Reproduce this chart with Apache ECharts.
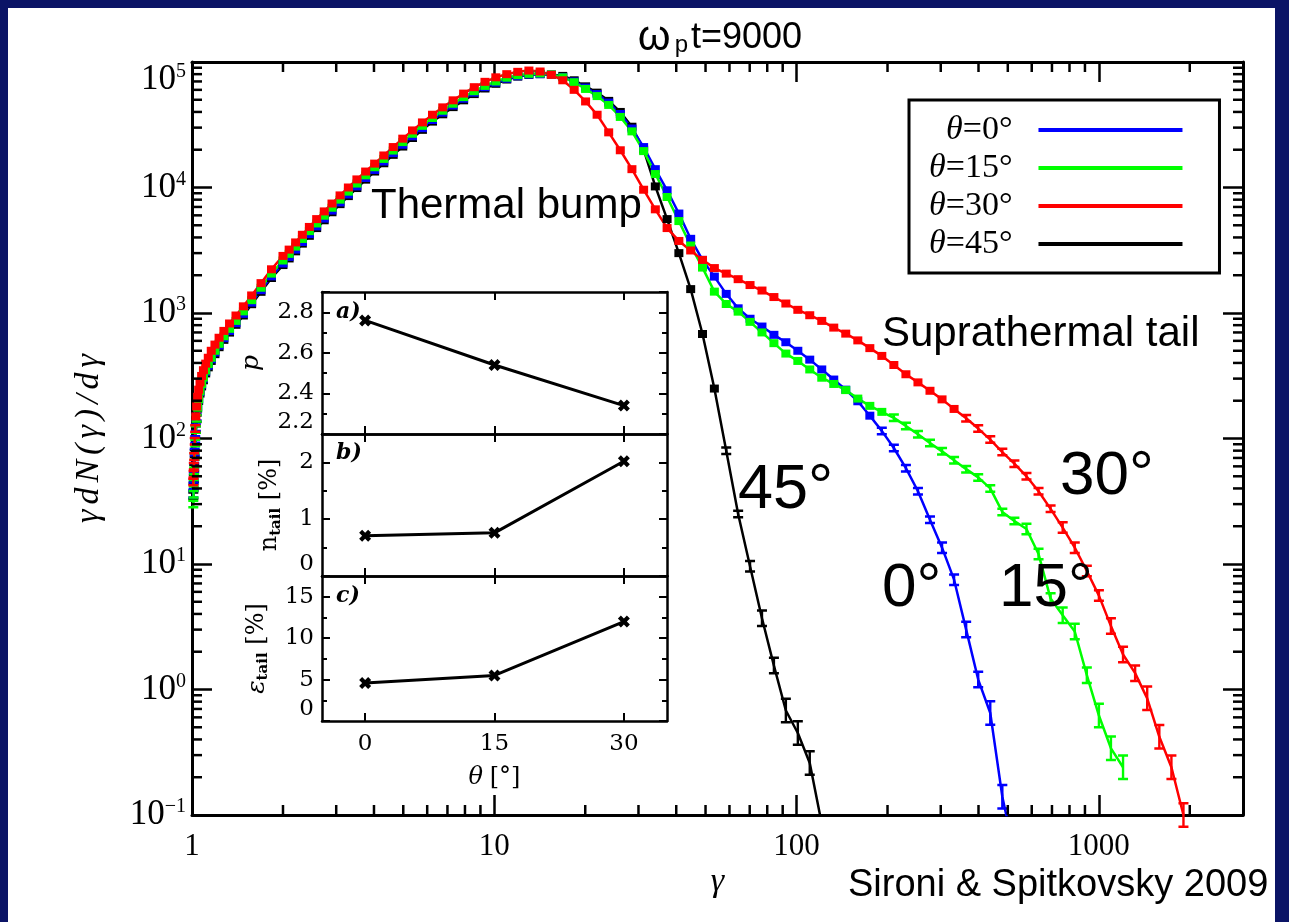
<!DOCTYPE html>
<html>
<head>
<meta charset="utf-8">
<title>Particle spectra at ωp t = 9000</title>
<script src="https://cdn.jsdelivr.net/npm/echarts@6.0.0/dist/echarts.min.js"></script>
<style>
  html, body { margin: 0; padding: 0; width: 1289px; height: 922px; overflow: hidden; background: #0b1466; }
  #sheet { position: absolute; left: 8px; top: 8px; width: 1267px; height: 914px; background: #ffffff; }
  #chart { position: absolute; left: 0; top: 0; width: 1289px; height: 922px; }
</style>
</head>
<body>
<div id="sheet"></div>
<div id="chart"></div>
<script>
// Lorentz-factor bin centres shared by the four spectra
const gammaBins = [
  1.01, 1.012, 1.014, 1.017, 1.021, 1.025, 1.03, 1.036, 1.044, 1.052, 1.063, 1.076, 1.091, 1.11, 1.132, 1.158, 1.191, 1.229, 1.275, 1.331, 1.398, 1.479, 1.575, 1.692, 1.832,
  2, 2.096, 2.202, 2.318, 2.445, 2.585, 2.738, 2.905, 3.089, 3.291, 3.512, 3.754, 4.02, 4.311, 4.631, 4.981, 5.365, 5.786, 6.248, 6.754, 7.31, 7.918, 8.586, 9.318, 10.12,
  11, 11.96, 13.02, 14.18, 15.45, 16.85, 18.38, 20.05, 21.89, 23.91, 26.12, 28.54, 31.2, 34.11, 37.31, 40.81, 44.65, 48.86, 53.48, 58.54, 64.1, 70.18, 76.86, 84.18, 92.2,
  101, 110.6, 121.2, 132.8, 145.5, 159.5, 174.8, 191.5, 209.9, 230.1, 252.2, 276.4, 303, 332.1, 364.1, 399.1, 437.5, 479.6, 525.8, 576.4, 632, 692.8, 759.6, 832.8, 913,
  1001, 1097, 1203, 1319, 1446, 1586, 1739, 1906
];

// γ dN/dγ for each magnetic-field obliquity (same order as gammaBins)
const spectrumTheta0 = [
  36, 42, 50, 60, 78, 98, 122, 148, 178, 205, 235, 268, 300, 340, 380, 428, 485, 550, 630, 720, 830, 985, 1210, 1520, 1960,
  2480, 2800, 3200, 3680, 4250, 4900, 5650, 6550, 7600, 8800, 10200, 11900, 13800, 16100, 18800, 21900, 25600, 29700, 34500, 39500, 45000, 51000, 57000, 63000, 68500,
  73500, 77000, 79500, 80000, 79000, 76000, 70000, 62500, 55500, 47500, 38500, 29500, 21000, 14000, 9500, 6200, 3900, 2650, 1950, 1420, 1090, 900, 780, 670, 585,
  500, 425, 355, 295, 245, 198, 152, 115, 84, 58, 38, 22.5, 13.5, 7.5, 3, 1.2, 0.65, 0.14, 0.05
];
const spectrumTheta15 = [
  30, 36, 44, 55, 72, 92, 118, 145, 176, 205, 238, 272, 306, 348, 392, 440, 500, 568, 652, 748, 865, 1030, 1265, 1590, 2060,
  2620, 2960, 3380, 3890, 4490, 5170, 5960, 6900, 8000, 9270, 10750, 12500, 14500, 16900, 19700, 23000, 26800, 31000, 35800, 40900, 46500, 52500, 58500, 64500, 70000,
  75000, 78500, 80500, 81000, 79500, 75500, 69000, 61000, 53500, 45500, 36500, 28000, 19500, 12800, 8400, 5400, 3450, 2300, 1480, 1180, 1025, 850, 700, 575, 475,
  415, 355, 305, 272, 243, 208, 182, 163, 146, 126, 108, 92, 79, 67, 57, 49, 40, 26, 22, 19, 12, 5.3, 3.9, 2.9, 1.3,
  0.62, 0.34, 0.24
];
const spectrumTheta30 = [
  45, 52, 60, 72, 95, 120, 150, 180, 215, 245, 280, 315, 350, 395, 440, 500, 560, 635, 720, 825, 955, 1130, 1380, 1730, 2230,
  2850, 3200, 3650, 4200, 4850, 5600, 6450, 7450, 8650, 10000, 11600, 13400, 15500, 18000, 21000, 24500, 28500, 33000, 38000, 43500, 49500, 56000, 63000, 69500, 75500,
  80000, 83500, 85500, 84000, 79000, 71500, 60000, 48500, 38000, 27500, 19800, 14000, 9600, 6700, 4750, 3750, 3150, 2650, 2280, 2060, 1860, 1670, 1510, 1340, 1190,
  1060, 960, 865, 765, 685, 605, 525, 455, 385, 325, 280, 240, 205, 172, 145, 120, 98, 78, 63, 50, 38, 27.5, 19.5, 13.5, 8.8,
  5.6, 3.2, 1.9, 1.35, 0.85, 0.42, 0.24, 0.1
];
const spectrumTheta45 = [
  35, 41, 48, 58, 76, 95, 118, 144, 173, 199, 228, 260, 291, 330, 369, 415, 470, 534, 611, 698, 805, 955, 1175, 1475, 1900,
  2410, 2720, 3100, 3570, 4120, 4750, 5480, 6350, 7370, 8540, 9900, 11550, 13400, 15600, 18200, 21200, 24800, 28800, 33500, 38300, 43700, 49500, 55500, 61500, 67000,
  72500, 76500, 79000, 80000, 79500, 77500, 71500, 64000, 57000, 49000, 40000, 30500, 20000, 10200, 5600, 3000, 1550, 680, 250, 80, 25, 9.6, 3.7, 1.55, 0.68,
  0.45, 0.26, 0.085
];

const spectrumNames = ['θ=0°', 'θ=15°', 'θ=30°', 'θ=45°'];
const spectrumColors = ['#0000ff', '#00ff00', '#ff0000', '#000000'];

// Inset: tail properties versus obliquity
const thetaDeg = [0, 15, 30];
const powerLawIndex = [2.76, 2.54, 2.34];
const tailNumberPct = [0.71, 0.76, 2.02];
const tailEnergyPct = [4.6, 5.5, 12.0];

// Minor tick positions of the logarithmic axes
const gammaMinorTicks = [2, 3, 4, 5, 6, 7, 8, 9, 20, 30, 40, 50, 60, 70, 80, 90, 200, 300, 400, 500, 600, 700, 800, 900, 2000];
const countMinorTicks = [
  0.2, 0.3, 0.4, 0.5, 0.6, 0.7, 0.8, 0.9, 2, 3, 4, 5, 6, 7, 8, 9, 20, 30, 40, 50, 60, 70, 80, 90,
  200, 300, 400, 500, 600, 700, 800, 900, 2000, 3000, 4000, 5000, 6000, 7000, 8000, 9000,
  20000, 30000, 40000, 50000, 60000, 70000, 80000, 90000
];

const SERIF = '"Liberation Serif", "DejaVu Serif", serif';
const SANS = '"Liberation Sans", Arial, sans-serif';
const BOOK = '"DejaVu Serif", serif';

// Error-bar style marker: small block where counts are high, taller I-beam in the sparse tail
function markerFor(n) {
  if (n >= 150) return { symbol: 'rect', symbolSize: [9, 8] };
  const h = n >= 20 ? 9 : n >= 4 ? 13 : n >= 1 ? 18 : 26;
  const path = 'path://M0,0H10V2.5H6.2V' + (h - 2.5) + 'H10V' + h + 'H0V' + (h - 2.5) + 'H3.8V2.5H0Z';
  return { symbol: path, symbolSize: [10, h] };
}

function spectrumSeries(name, color, values) {
  return {
    type: 'line', name: name, xAxisIndex: 0, yAxisIndex: 0,
    data: values.map((n, i) => Object.assign({ value: [gammaBins[i], n] }, markerFor(n))),
    showSymbol: true, showAllSymbol: true, clip: true, silent: true,
    color: color,
    lineStyle: { color: color, width: 2.5 },
    itemStyle: { color: color },
    emphasis: { disabled: true },
    z: 3
  };
}

const isDecade = v => Math.abs(Math.log10(v) - Math.round(Math.log10(v))) < 1e-6;

const frameLine = { show: true, onZero: false, lineStyle: { color: '#000', width: 3 } };
const majorTick = { show: true, inside: true, length: 20, lineStyle: { color: '#000', width: 2.5 } };

// γdN(γ)/dγ written glyph by glyph so the math spacing can be widened
const yTitleGlyphs = ['γ', 'd', 'N', '(', 'γ', ')', '/', 'd', 'γ'];

function mainX(position, labels) {
  const ax = {
    type: 'log', logBase: 10, min: 1, max: 3000, gridIndex: 0, position: position,
    axisLine: frameLine, axisTick: majorTick, splitLine: { show: false },
    axisLabel: { show: false }
  };
  if (labels) {
    ax.axisLabel = {
      show: true, margin: 16, color: '#000', fontFamily: SERIF, fontSize: 31,
      formatter: v => isDecade(v) ? String(Math.round(v)) : ''
    };
    ax.name = 'γ';
    ax.nameLocation = 'middle';
    ax.nameGap = 50;
    ax.nameMoveOverlap = false;
    ax.nameTextStyle = { color: '#000', fontFamily: SERIF, fontStyle: 'italic', fontSize: 34 };
  }
  return ax;
}

function mainY(position, labels) {
  const ax = {
    type: 'log', logBase: 10, min: 0.1, max: 100000, gridIndex: 0, position: position,
    axisLine: frameLine, axisTick: majorTick, splitLine: { show: false },
    axisLabel: { show: false }
  };
  if (labels) {
    ax.axisLabel = {
      show: true, margin: 6, color: '#000', verticalAlignMaxLabel: 'top',
      formatter: v => {
        const e = Math.round(Math.log10(v));
        return '{b|10}{s|' + (e < 0 ? '−' + (-e) : String(e)) + '}';
      },
      rich: {
        b: { fontFamily: SERIF, fontSize: 35, lineHeight: 36, color: '#000' },
        s: { fontFamily: SERIF, fontSize: 20, lineHeight: 18, verticalAlign: 'top', color: '#000' }
      }
    };
    ax.name = yTitleGlyphs.map(g => '{g|' + g + '}').join('');
    ax.nameLocation = 'middle';
    ax.nameRotate = 90;
    ax.nameGap = 86;
    ax.nameMoveOverlap = false;
    ax.nameTextStyle = {
      rich: { g: { color: '#000', fontFamily: SERIF, fontStyle: 'italic', fontSize: 34, padding: [0, 2.5, 0, 2.5] } }
    };
  }
  return ax;
}

const insetLine = { show: true, onZero: false, lineStyle: { color: '#000', width: 2.5 } };

function insetX(gridIndex, position, labels) {
  const ax = {
    type: 'value', gridIndex: gridIndex, position: position, min: -5, max: 35,
    axisLine: insetLine,
    axisTick: { show: true, inside: true, length: 8, customValues: thetaDeg, lineStyle: { color: '#000', width: 2 } },
    axisLabel: { show: false },
    splitLine: { show: false }
  };
  if (labels) {
    ax.axisLabel = { show: true, customValues: thetaDeg, margin: 12, color: '#000', fontFamily: BOOK, fontSize: 23 };
    ax.name = '{i|θ}  {n|[°]}';
    ax.nameLocation = 'middle';
    ax.nameGap = 45;
    ax.nameMoveOverlap = false;
    ax.nameTextStyle = {
      rich: {
        i: { fontFamily: BOOK, fontStyle: 'italic', fontSize: 24, color: '#000' },
        n: { fontFamily: BOOK, fontSize: 24, color: '#000' }
      }
    };
  }
  return ax;
}

function insetY(gridIndex, position, min, max, interval, name, nameGap) {
  const ax = {
    type: 'value', gridIndex: gridIndex, position: position, min: min, max: max, interval: interval,
    axisLine: insetLine,
    axisTick: { show: true, inside: true, length: 8, lineStyle: { color: '#000', width: 2 } },
    minorTick: { show: true, splitNumber: 2, length: 5, lineStyle: { color: '#000', width: 2 } },
    axisLabel: { show: false },
    splitLine: { show: false }
  };
  if (name) {
    ax.axisLabel = {
      show: true, margin: 8, color: '#000', fontFamily: BOOK, fontSize: 23,
      showMaxLabel: false, verticalAlignMinLabel: 'bottom'
    };
    ax.name = name;
    ax.nameLocation = 'middle';
    ax.nameRotate = 90;
    ax.nameGap = nameGap;
    ax.nameMoveOverlap = false;
    ax.nameTextStyle = {
      rich: {
        i: { fontFamily: BOOK, fontStyle: 'italic', fontSize: 25, lineHeight: 28, color: '#000' },
        n: { fontFamily: BOOK, fontSize: 24, lineHeight: 28, color: '#000' },
        s: { fontFamily: BOOK, fontWeight: 'bold', fontSize: 15, lineHeight: 11, verticalAlign: 'bottom', color: '#000' }
      }
    };
  }
  return ax;
}

const crossMark = 'path://M0,3L3,0L6,3L9,0L12,3L9,6L12,9L9,12L6,9L3,12L0,9L3,6Z';

function insetSeries(axisIndex, values) {
  return {
    type: 'line', xAxisIndex: axisIndex, yAxisIndex: axisIndex,
    data: thetaDeg.map((t, i) => [t, values[i]]),
    symbol: crossMark, symbolSize: 12, showSymbol: true, silent: true,
    lineStyle: { color: '#000', width: 3 }, itemStyle: { color: '#000' },
    emphasis: { disabled: true }, z: 4
  };
}

// Minor ticks of the log axes, drawn on all four sides of the main frame
const minorX = {
  type: 'custom', xAxisIndex: 0, yAxisIndex: 0, silent: true, clip: false, z: 5,
  data: gammaMinorTicks.map(v => [v, 1]),
  renderItem: (params, api) => {
    const x = api.coord([api.value(0), 1])[0];
    const cs = params.coordSys;
    const b = cs.y + cs.height;
    return {
      type: 'group', children: [
        { type: 'line', shape: { x1: x, y1: b, x2: x, y2: b - 10 }, style: { stroke: '#000', lineWidth: 2.5 } },
        { type: 'line', shape: { x1: x, y1: cs.y, x2: x, y2: cs.y + 10 }, style: { stroke: '#000', lineWidth: 2.5 } }
      ]
    };
  }
};
const minorY = {
  type: 'custom', xAxisIndex: 0, yAxisIndex: 0, silent: true, clip: false, z: 5,
  data: countMinorTicks.map(v => [1, v]),
  renderItem: (params, api) => {
    const y = api.coord([1, api.value(1)])[1];
    const cs = params.coordSys;
    const r = cs.x + cs.width;
    return {
      type: 'group', children: [
        { type: 'line', shape: { x1: cs.x, y1: y, x2: cs.x + 10, y2: y }, style: { stroke: '#000', lineWidth: 2.5 } },
        { type: 'line', shape: { x1: r, y1: y, x2: r - 10, y2: y }, style: { stroke: '#000', lineWidth: 2.5 } }
      ]
    };
  }
};

function label(text, x, y, font) {
  return { type: 'text', x: x, y: y, z: 10, silent: true,
    style: { text: text, font: font, fill: '#000', textAlign: 'left', textVerticalAlign: 'middle' } };
}

const chart = echarts.init(document.getElementById('chart'), null, { renderer: 'canvas' });

chart.setOption({
  animation: false,
  backgroundColor: 'transparent',
  title: {
    text: '{o|ω}{p|p}{w|t=9000}',
    left: 710, top: 14, textAlign: 'center',
    textStyle: {
      fontWeight: 'normal',
      rich: {
        o: { fontFamily: SANS, fontWeight: 'normal', fontSize: 42, lineHeight: 38, color: '#000', padding: [0, 4, 0, 10] },
        w: { fontFamily: SANS, fontWeight: 'normal', fontSize: 36, lineHeight: 38, color: '#000' },
        p: { fontFamily: SANS, fontWeight: 'normal', fontSize: 24, lineHeight: 14, verticalAlign: 'bottom', color: '#000', padding: [0, 3, 0, 0] }
      }
    }
  },
  legend: {
    data: spectrumNames,
    orient: 'vertical', align: 'right',
    left: 909, top: 100,
    icon: 'rect', itemWidth: 144, itemHeight: 4, itemGap: 4,
    padding: [13, 37, 12, 20],
    borderColor: '#000', borderWidth: 3, borderRadius: 0, backgroundColor: '#fff',
    selectedMode: false,
    formatter: name => '{t|θ}{r|' + name.slice(1) + '}',
    textStyle: {
      color: '#000',
      rich: {
        t: { fontFamily: SERIF, fontStyle: 'italic', fontSize: 34, lineHeight: 30, color: '#000' },
        r: { fontFamily: SERIF, fontSize: 34, lineHeight: 30, color: '#000', padding: [0, 21, 0, 0] }
      }
    }
  },
  grid: [
    { left: 192, top: 62, right: 46, bottom: 107, containLabel: false, outerBoundsMode: 'none' },
    { left: 322, top: 292, width: 345, height: 142, show: true, backgroundColor: '#fff', borderWidth: 0, containLabel: false, outerBoundsMode: 'none' },
    { left: 322, top: 434, width: 345, height: 142, show: true, backgroundColor: '#fff', borderWidth: 0, containLabel: false, outerBoundsMode: 'none' },
    { left: 322, top: 576, width: 345, height: 145, show: true, backgroundColor: '#fff', borderWidth: 0, containLabel: false, outerBoundsMode: 'none' }
  ],
  xAxis: [
    mainX('bottom', true), mainX('top', false),
    insetX(1, 'bottom', false), insetX(1, 'top', false),
    insetX(2, 'bottom', false), insetX(2, 'top', false),
    insetX(3, 'bottom', true), insetX(3, 'top', false)
  ],
  yAxis: [
    mainY('left', true), mainY('right', false),
    insetY(1, 'left', 2.2, 2.9, 0.2, '{i|p}', 57), insetY(1, 'right', 2.2, 2.9, 0.2, null),
    insetY(2, 'left', 0, 2.5, 1, '{n|n}{s|tail}{n| [%]}', 38), insetY(2, 'right', 0, 2.5, 1, null),
    insetY(3, 'left', 0, 17.5, 5, '{i|ε}{s|tail}{n| [%]}', 51), insetY(3, 'right', 0, 17.5, 5, null)
  ],
  series: [
    // drawn first so the other spectra sit on top of it in the thermal part
    spectrumSeries(spectrumNames[3], spectrumColors[3], spectrumTheta45),
    spectrumSeries(spectrumNames[0], spectrumColors[0], spectrumTheta0),
    spectrumSeries(spectrumNames[1], spectrumColors[1], spectrumTheta15),
    spectrumSeries(spectrumNames[2], spectrumColors[2], spectrumTheta30),
    minorX, minorY,
    insetSeries(2, powerLawIndex),
    insetSeries(4, tailNumberPct),
    insetSeries(6, tailEnergyPct)
  ],
  graphic: {
    elements: [
      label('Thermal bump', 371, 206, '42px ' + SANS),
      label('Suprathermal tail', 882, 334, '42px ' + SANS),
      label('45°', 738, 491, '63px ' + SANS),
      label('30°', 1060, 477, '62px ' + SANS),
      label('0°', 882, 589, '62px ' + SANS),
      label('15°', 999, 589, '62px ' + SANS),
      label('Sironi & Spitkovsky 2009', 848, 886, '38px ' + SANS),
      label('a)', 336, 312, 'italic bold 22px ' + BOOK),
      label('b)', 336, 453, 'italic bold 22px ' + BOOK),
      label('c)', 336, 596, 'italic bold 22px ' + BOOK)
    ]
  }
});
</script>
</body>
</html>
